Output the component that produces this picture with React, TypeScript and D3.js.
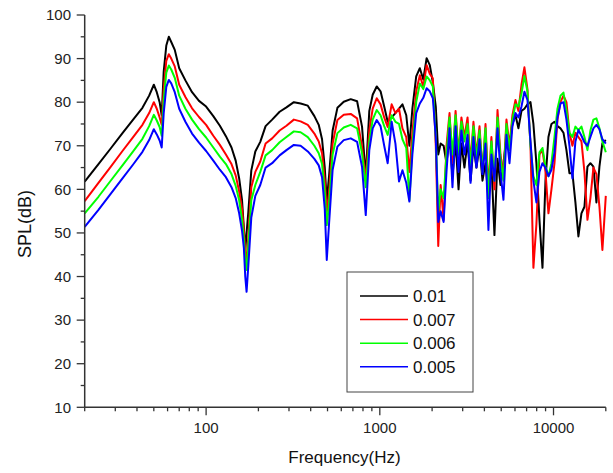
import React from 'react'
import * as d3 from 'd3'

// frequency grid (Hz), shared by all four curves
const freqHz = [
  20, 24, 28, 33, 38, 43, 47, 50, 52, 54,
  55.5, 57, 59, 61, 63, 66, 70, 76, 83, 91,
  100, 110, 120, 130, 140, 148, 155, 161, 165, 168,
  171, 175, 182, 192, 205, 220, 240, 265, 290, 320,
  350, 385, 420, 445, 465, 482, 495, 510, 535, 570,
  620, 680, 740, 790, 830, 870, 910, 960, 1010, 1060,
  1110, 1170, 1230, 1290, 1350, 1420, 1480, 1540, 1620, 1700,
  1780, 1860, 1940, 2020, 2100, 2170, 2240,
  2330, 2420, 2520, 2620, 2730, 2840, 2950, 3070, 3200, 3330,
  3460, 3600, 3750, 3900, 4060, 4220, 4390, 4570, 4760, 4950,
  5150, 5360, 5580, 5800, 6040, 6280, 6540, 6800, 7080, 7370,
  7660, 7970, 8300, 8640, 8990, 9350, 9730, 10130, 10540, 10970,
  11410, 11870, 12350, 12850, 13370, 13910, 14480, 15070, 15680, 16310,
  16970, 17660, 18380, 19120, 20000,
]

// SPL (dB) for each damping value
const spl001 = [
  61.8, 65.8, 69.2, 72.9, 76.0, 78.7, 81.5, 84.0, 82.3, 80.0,
  77.0, 87.0, 93.0, 95.0, 93.8, 92.0, 87.8, 85.0, 82.3, 80.3,
  79.0, 76.8, 74.6, 72.2, 69.6, 66.6, 62.5, 57.5, 51.0, 46.0,
  50.0, 54.8, 64.3, 68.7, 70.9, 74.5, 76.0, 77.8, 78.8, 80.0,
  79.7, 79.2, 76.8, 74.8, 71.5, 65.0, 57.3, 63.0, 73.5, 78.7,
  80.1, 80.7, 80.2, 74.4, 63.0, 78.0, 81.7, 83.6, 82.5, 79.0,
  75.5, 76.5, 77.5, 78.5, 79.5, 77.0, 70.0, 78.5, 85.9, 87.8,
  85.2, 90.1, 88.5, 84.5, 79.0, 68.0, 70.5,
  70.0, 66.0, 72.0, 63.0, 71.0, 60.0, 70.5, 65.0, 71.0, 62.0,
  70.0, 65.0, 70.0, 62.0, 66.0, 58.0, 66.0, 49.5, 67.0, 61.0,
  66.0, 72.0, 70.0, 75.0, 77.0, 74.0, 78.0, 78.5, 79.5, 80.0,
  75.0, 66.0, 53.0, 42.0, 62.0, 72.0, 75.0, 75.5, 74.5, 74.0,
  73.0, 69.0, 63.7, 63.7, 57.0, 49.2, 54.5, 56.0, 65.2, 66.0,
  65.2, 57.0, 65.2, 70.6, 71.3,
]

const spl0007 = [
  57.3, 61.5, 65.0, 68.8, 72.0, 74.8, 77.5, 80.0, 78.5, 76.5,
  74.8, 83.0, 89.5, 91.0, 90.0, 88.2, 84.0, 81.2, 78.6, 76.6,
  74.8, 72.3, 70.2, 68.0, 65.8, 63.2, 59.5, 55.5, 50.5, 45.5,
  43.5, 49.0, 60.5, 64.0, 66.4, 70.5, 71.7, 73.5, 74.6, 76.0,
  75.6, 74.8, 72.8, 71.0, 68.3, 62.0, 54.8, 59.0, 70.5, 75.9,
  77.1, 77.3, 76.3, 69.8, 62.0, 73.5, 78.5, 80.9, 79.5, 76.5,
  74.3, 79.5, 77.5, 78.5, 74.0, 72.0, 64.0, 73.0, 82.5, 86.2,
  83.5, 88.5, 86.5, 85.5, 70.0, 47.0, 61.0,
  53.0, 70.0, 77.5, 66.0, 78.0, 68.0, 76.5, 72.0, 76.5, 66.0,
  75.5, 68.0, 74.5, 64.0, 75.0, 60.0, 72.0, 60.0, 78.2, 68.0,
  63.0, 76.0, 70.0, 77.0, 80.5, 78.0, 84.0, 88.0, 83.0, 70.0,
  42.0, 52.0, 68.0, 69.0, 64.0, 54.5, 60.0, 66.0, 76.0, 80.0,
  81.5, 80.0, 73.0, 70.0, 73.0, 72.0, 71.0, 64.0, 53.0, 58.0,
  65.0, 63.5, 56.0, 46.1, 58.5,
]

const spl0006 = [
  54.5, 58.3, 61.8, 65.5, 68.7, 71.6, 74.5, 77.1, 75.8, 74.3,
  72.3, 80.5, 86.8, 88.4, 87.5, 85.6, 81.5, 78.5, 76.0, 73.8,
  71.9, 69.6, 67.5, 65.8, 63.5, 60.8, 57.5, 53.0, 48.5, 44.0,
  41.5, 47.0, 57.5, 61.0, 64.0, 67.8, 69.0, 70.8, 72.0, 73.3,
  73.1, 72.0, 70.0, 68.3, 65.8, 59.5, 51.8, 56.5, 68.0, 72.9,
  74.2, 74.8, 74.0, 68.3, 60.5, 71.0, 76.0, 78.2, 77.0, 74.5,
  72.5, 77.0, 75.5, 75.0, 71.5, 69.5, 57.5, 70.0, 80.0, 84.3,
  83.0, 85.9, 85.0, 83.6, 72.0, 55.0, 60.0,
  58.0, 68.0, 76.5, 68.0, 77.0, 68.0, 75.5, 71.0, 75.0, 65.0,
  74.5, 67.0, 73.5, 64.0, 74.0, 58.0, 71.0, 62.0, 76.5, 67.0,
  62.0, 75.0, 69.0, 76.0, 79.5, 79.0, 82.0, 86.0, 82.5, 70.0,
  63.0, 61.0, 68.5, 69.5, 65.2, 63.0, 66.0, 72.0, 78.5, 81.5,
  82.2, 78.0, 73.0, 72.0, 74.4, 73.6, 74.4, 72.0, 69.0, 73.5,
  76.0, 76.3, 74.0, 71.0, 68.5,
]

const spl0005 = [
  51.4, 55.3, 58.8, 62.5, 65.7, 68.6, 71.3, 73.8, 72.6, 71.2,
  69.6, 77.5, 83.5, 85.1, 84.3, 82.3, 78.5, 75.5, 72.8, 70.7,
  68.8, 66.6, 64.5, 62.8, 60.5, 58.0, 54.5, 50.5, 46.5, 40.0,
  36.5, 42.5, 53.5, 58.5, 61.0, 65.0, 66.0, 67.8, 69.0, 70.2,
  70.0, 68.7, 67.0, 65.5, 62.8, 55.5, 43.8, 52.0, 64.5, 69.8,
  71.3, 71.7, 70.9, 65.2, 54.1, 69.0, 74.0, 75.9, 74.5, 70.0,
  66.0, 75.5, 70.5, 61.8, 64.4, 61.5, 57.2, 68.0, 77.5, 79.7,
  81.0, 83.2, 82.5, 80.9, 72.0, 52.5, 55.0,
  52.5, 64.0, 74.0, 60.5, 74.5, 64.0, 73.5, 68.0, 72.5, 61.5,
  72.0, 65.0, 71.5, 63.5, 70.5, 50.7, 68.0, 62.0, 74.0, 64.0,
  57.6, 72.5, 66.0, 74.5, 77.5, 76.5, 79.0, 82.4, 80.5, 71.0,
  62.0, 57.0, 64.0, 66.0, 65.0, 63.0, 64.5, 68.5, 76.5, 79.7,
  80.0, 76.0, 70.0, 62.5, 71.0, 73.6, 72.3, 70.8, 70.0, 72.0,
  74.0, 74.8, 73.8, 71.5, 70.5,
]

const seriesNames = ['0.01', '0.007', '0.006', '0.005']
const seriesColors = ['#000000', '#ff0000', '#00ff00', '#0000ff']
const yTicks = [10, 20, 30, 40, 50, 60, 70, 80, 90, 100]
const xLabels = ['100', '1000', '10000']

const font = '"Liberation Sans", Arial, sans-serif'

const App = () => {
  const x = d3.scaleLog().domain([20, 20000]).range([84.7, 605.8])
  const y = d3.scaleLinear().domain([10, 100]).range([407.3, 15])
  const series = [spl001, spl0007, spl0006, spl0005]
  const line = d3
    .line<number>()
    .x((_, i) => x(freqHz[i]))
    .y(d => y(d))

  const x0 = x.range()[0]
  const y0 = y.range()[0]
  const xMinor = x.ticks()
  const yMinor = d3.range(15, 100, 10)

  const legendX = 347
  const legendY = 272
  const rowH = 23.6

  return (
    <svg
      width={613}
      height={473}
      style={{position: 'absolute', left: 0, top: 0, background: '#fff'}}
      fontFamily={font}
    >
      {/* curves */}
      {series.map((s, i) => (
        <path
          key={seriesNames[i]}
          d={line(s) || ''}
          fill="none"
          stroke={seriesColors[i]}
          strokeWidth={2}
          strokeLinejoin="round"
        />
      ))}

      {/* y axis */}
      <line x1={x0} x2={x0} y1={y(100)} y2={y0} stroke="#333" strokeWidth={1.5} />
      {yTicks.map(t => (
        <g key={t}>
          <line x1={x0 - 8} x2={x0} y1={y(t)} y2={y(t)} stroke="#333" strokeWidth={1.3} />
          <text x={71} y={y(t) + 5.3} textAnchor="end" fontSize={15} fill="#222">
            {t}
          </text>
        </g>
      ))}
      {yMinor.map(t => (
        <line key={t} x1={x0 - 4} x2={x0} y1={y(t)} y2={y(t)} stroke="#333" strokeWidth={1.3} />
      ))}

      {/* x axis */}
      <line x1={x0} x2={x.range()[1]} y1={y0} y2={y0} stroke="#333" strokeWidth={1.5} />
      {xMinor.map(t => {
        const major = xLabels.includes(String(t))
        return (
          <line
            key={t}
            x1={x(t)}
            x2={x(t)}
            y1={y0}
            y2={y0 + (major ? 8 : 4)}
            stroke="#333"
            strokeWidth={1.3}
          />
        )
      })}
      {xLabels.map(l => (
        <text key={l} x={x(+l)} y={433.3} textAnchor="middle" fontSize={15} fill="#222">
          {l}
        </text>
      ))}

      {/* axis titles */}
      <text x={344.5} y={463} textAnchor="middle" fontSize={17} fill="#111">
        Frequency(Hz)
      </text>
      <text
        transform="translate(31 224) rotate(-90)"
        textAnchor="middle"
        fontSize={18}
        fill="#111"
      >
        SPL(dB)
      </text>

      {/* legend */}
      <rect
        x={legendX}
        y={legendY}
        width={126}
        height={120}
        fill="#fff"
        stroke="#444"
        strokeWidth={1}
      />
      {seriesNames.map((n, i) => {
        const ry = legendY + 24 + i * rowH
        return (
          <g key={n}>
            <line x1={360} x2={408} y1={ry} y2={ry} stroke={seriesColors[i]} strokeWidth={1.5} />
            <text x={413} y={ry + 6} fontSize={17} fill="#111">
              {n}
            </text>
          </g>
        )
      })}
    </svg>
  )
}

export default App
